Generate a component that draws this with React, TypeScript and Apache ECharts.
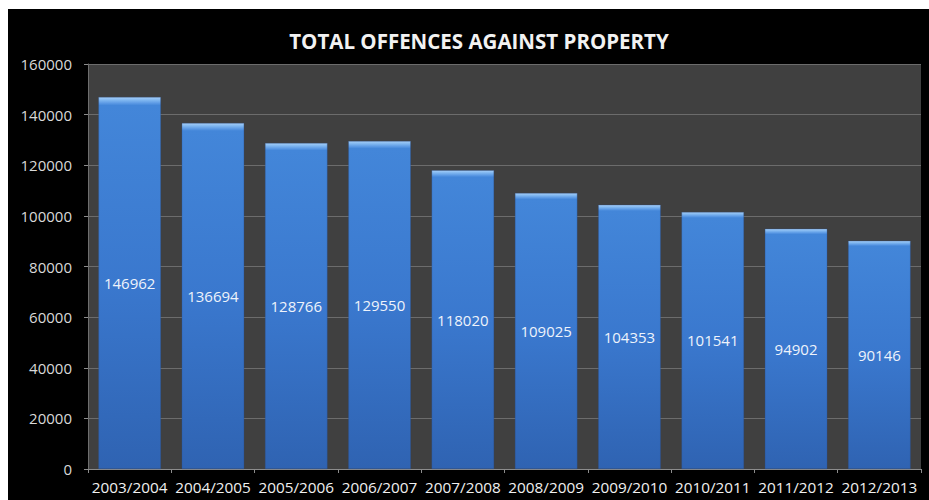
import React, { useEffect, useRef } from "react";
import * as echarts from "echarts";

const titleText = "TOTAL OFFENCES AGAINST PROPERTY";
const periods = [
  "2003/2004",
  "2004/2005",
  "2005/2006",
  "2006/2007",
  "2007/2008",
  "2008/2009",
  "2009/2010",
  "2010/2011",
  "2011/2012",
  "2012/2013",
];
const offences = [146962, 136694, 128766, 129550, 118020, 109025, 104353, 101541, 94902, 90146];
const yMin = 0;
const yMax = 160000;
const yStep = 20000;

const W = 929;
const H = 500;

export default function App() {
  const ref = useRef<HTMLDivElement>(null);

  useEffect(() => {
    if (!ref.current) return;
    const chart = echarts.init(ref.current, undefined, { renderer: "svg", width: W, height: H });

    const barFill = new echarts.graphic.LinearGradient(0, 0, 0, 1, [
      { offset: 0, color: "#a6cff8" },
      { offset: 0.008, color: "#7fb6f0" },
      { offset: 0.016, color: "#5c9ae5" },
      { offset: 0.022, color: "#4386d9" },
      { offset: 0.5, color: "#3a78ce" },
      { offset: 1, color: "#2f63b2" },
    ]);

    chart.setOption({
      animation: false,
      backgroundColor: "#ffffff",
      graphic: [
        {
          type: "rect",
          z: -10,
          silent: true,
          shape: { x: 8, y: 9, width: W - 8, height: H - 9 },
          style: { fill: "#000000" },
        },
      ],
      title: {
        text: titleText,
        left: 474,
        top: 25,
        textAlign: "center",
        textStyle: {
          color: "#f2f2f2",
          fontFamily: "Open Sans",
          fontWeight: "bold",
          fontSize: 20.5,
        },
      },
      grid: {
        left: 88,
        right: 8,
        top: 64,
        bottom: 31,
        show: true,
        backgroundColor: "#404040",
        borderWidth: 0,
      },
      xAxis: {
        type: "category",
        data: periods,
        axisLine: { show: true, lineStyle: { color: "#8c8c8c", width: 1 } },
        axisTick: { show: true, length: 4, alignWithLabel: false, lineStyle: { color: "#8c8c8c" } },
        axisLabel: {
          color: "#f0f0f0",
          fontFamily: "Open Sans",
          fontSize: 15.3,
          margin: 10,
          interval: 0,
        },
      },
      yAxis: {
        type: "value",
        min: yMin,
        max: yMax,
        interval: yStep,
        axisLine: { show: true, lineStyle: { color: "#6e6e6e", width: 1 } },
        axisTick: { show: true, length: 4, lineStyle: { color: "#8c8c8c" } },
        splitLine: { show: true, lineStyle: { color: "#6c6c6c", width: 1 } },
        axisLabel: {
          color: "#d9d9d9",
          fontFamily: "Open Sans",
          fontSize: 15,
          margin: 16,
          formatter: (v: number) => String(v),
        },
      },
      series: [
        {
          type: "bar",
          data: offences,
          barWidth: "75%",
          itemStyle: {
            color: barFill,
            borderColor: "rgba(40,80,150,0.6)",
            borderWidth: 0.5,
          },
          label: {
            show: true,
            position: "inside",
            color: "#eef3fb",
            fontFamily: "Open Sans",
            fontSize: 15,
          },
        },
      ],
    });

    return () => chart.dispose();
  }, []);

  return (
    <div
      ref={ref}
      style={{ position: "absolute", left: 0, top: 0, width: W, height: H }}
    />
  );
}
